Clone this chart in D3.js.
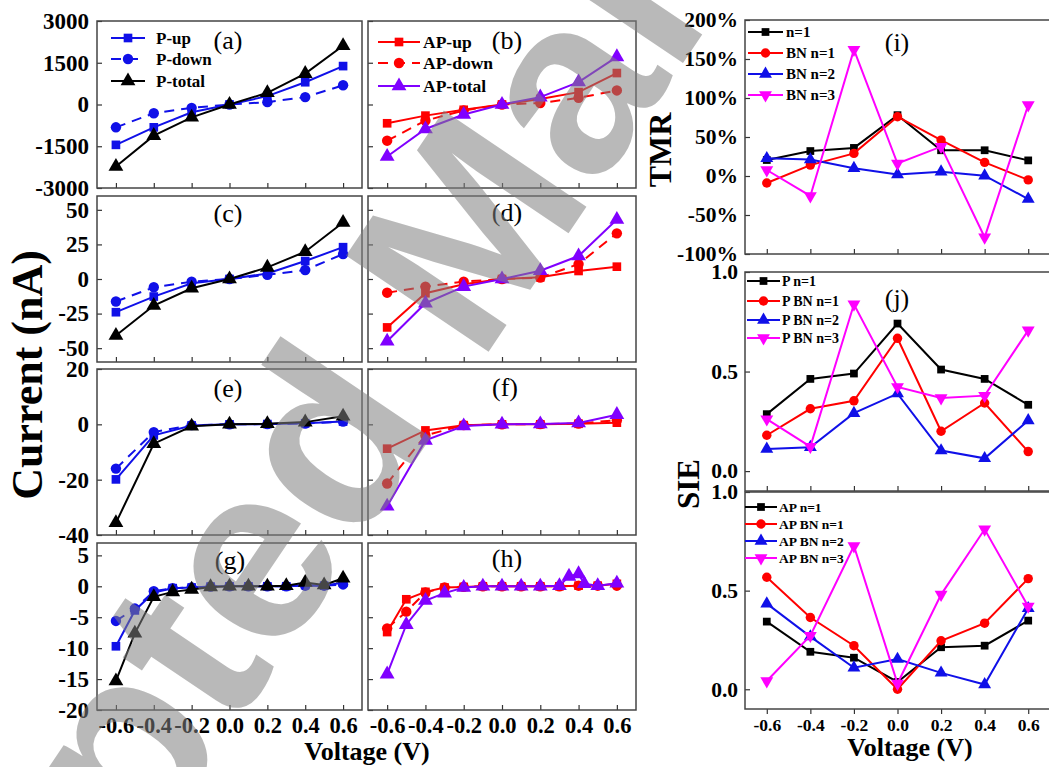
<!DOCTYPE html>
<html><head><meta charset="utf-8">
<script src="https://cdn.jsdelivr.net/npm/d3@7"></script>
<style>body{margin:0;background:#fff}svg{display:block}</style>
</head><body>
<svg id="c" width="1049" height="767"></svg>
<script>
// ---------- data ----------
const voltage7 = [-0.6,-0.4,-0.2,0,0.2,0.4,0.6];
const voltage13 = [-0.6,-0.5,-0.4,-0.3,-0.2,-0.1,0,0.1,0.2,0.3,0.4,0.5,0.6];
const voltageHTotal = [-0.6,-0.5,-0.4,-0.3,-0.2,-0.1,0,0.1,0.2,0.3,0.35,0.4,0.43,0.5,0.6];

const aUp    = [-1450,-820,-280,0,300,800,1380];
const aDown  = [-820,-315,-120,0,85,265,690];
const aTotal = [-2230,-1120,-460,0,420,1110,2110];
const bUp    = [-675,-400,-190,0,200,445,1130];
const bDown  = [-1300,-580,-215,0,50,240,505];
const bTotal = [-1870,-880,-360,0,265,805,1710];
const cUp    = [-24,-12.7,-3.1,0,4,13,23];
const cDown  = [-16.3,-6,-2,0,3,6.5,18];
const cTotal = [-40.8,-19.2,-6.7,0,8.4,19.7,40.8];
const dUp    = [-35,-10.3,-3.8,0,1.2,5.8,8.9];
const dDown  = [-9.9,-5.5,-1.9,0,1,10.8,33];
const dTotal = [-45,-17.5,-5.5,0,6,16.6,43];
const eUp    = [-19.9,-4,-0.4,0,0.1,0.4,1.0];
const eDown  = [-16,-2.8,-0.3,0,0.1,0.3,1.0];
const eTotal = [-35.6,-7,-0.7,0,0.2,0.8,2.9];
const fUp    = [-8.8,-2.2,-0.3,0,0,0.2,0.6];
const fDown  = [-21.4,-4,-0.3,0,0.1,0.3,1.5];
const fTotal = [-29.6,-5.8,-0.6,0,0.1,0.5,3.5];
const gUp    = [-9.7,-3.9,-1.0,-0.3,-0.2,-0.05,0,0,0,0,0.2,0.1,0.6];
const gDown  = [-5.6,-3.6,-0.8,-0.3,-0.2,-0.05,0,0,0,0,0.1,0.1,0.3];
const gTotal = [-15.3,-7.6,-1.7,-0.9,-0.5,-0.1,0,0,0,0.1,0.6,0.2,1.3];
const hUp    = [-7.4,-2.1,-0.9,-0.2,-0.1,0,0,0,0,0,0.1,0.1,0.4];
const hDown  = [-6.8,-4.1,-1.0,-0.2,-0.1,0,0,0,0,0,0.1,0.1,0.1];
const hTotal = [-14.2,-6.2,-2.3,-1.1,-0.2,0,0,0,0,0.1,1.6,2.0,0.4,0.1,0.5];

const tmrN1  = [20.5,32,36,78,33,33,20];
const tmrBN1 = [-9,14,29,76,46,17.5,-5];
const tmrBN2 = [22.6,21,10,2,5.5,0.4,-29.5];
const tmrBN3 = [7.7,-25.6,162,16,37.6,-78.6,91];
const siePN1  = [0.286,0.463,0.49,0.741,0.51,0.463,0.333];
const siePBN1 = [0.18,0.313,0.353,0.667,0.2,0.342,0.098];
const siePBN2 = [0.111,0.12,0.291,0.389,0.103,0.064,0.254];
const siePBN3 = [0.261,0.123,0.838,0.423,0.367,0.379,0.707];
const sieAPN1  = [0.343,0.19,0.16,0.037,0.213,0.221,0.348];
const sieAPBN1 = [0.568,0.364,0.221,0,0.246,0.335,0.561];
const sieAPBN2 = [0.434,0.267,0.109,0.153,0.083,0.024,0.41];
const sieAPBN3 = [0.042,0.272,0.726,0.029,0.48,0.811,0.42];

const ticksA = [-3000,-1500,0,1500,3000];
const ticksC = [-50,-25,0,25,50];
const ticksE = [-40,-20,0,20];
const ticksG = [-20,-15,-10,-5,0,5];
const ticksTMR = [-100,-50,0,50,100,150,200];
const ticksSIE = [0,0.5,1.0];

const watermarkText = 'Accepted Manuscript';

// ---------- styles ----------
const SERIF = '"Liberation Serif","Times New Roman",serif';
const BLUE = '#1010e8', RED = '#ff0000', PURPLE = '#8000ff', BLACK = '#000000', MAG = '#ff00ff';
const svg = d3.select('#c');

const symType = {square:d3.symbolSquare, circle:d3.symbolCircle, up:d3.symbolTriangle, down:d3.symbolTriangle};
function symPath(kind, size){ return d3.symbol().type(symType[kind]).size(size)(); }

function S(name, xs, ys, color, marker, dash){ return {name, xs, ys, color, marker, dash}; }

const L = {x0:97, x1:362}, M = {x0:368, x1:636}, R = {x0:745, x1:1050};
const rows = [[21,188],[196,362],[369,535],[543,710]];

const panels = [
  {...L, y0:rows[0][0], y1:rows[0][1], yd:[-3000,3000], yt:ticksA, ylab:true, tag:'(a)', tagX:228, tagY:40,
   series:[S('P-up',voltage7,aUp,BLUE,'square'),S('P-down',voltage7,aDown,BLUE,'circle',true),S('P-total',voltage7,aTotal,BLACK,'up')],
   legend:{lx0:111, lx1:145, tx:156, ys:[38,59,81], fs:17}},
  {...M, y0:rows[0][0], y1:rows[0][1], yd:[-3000,3000], yt:ticksA, tag:'(b)', tagX:507, tagY:40,
   series:[S('AP-up',voltage7,bUp,RED,'square'),S('AP-down',voltage7,bDown,RED,'circle',true),S('AP-total',voltage7,bTotal,PURPLE,'up')],
   legend:{lx0:378, lx1:420, tx:423, ys:[42,63,86], fs:17.5}},
  {...L, y0:rows[1][0], y1:rows[1][1], yd:[-60,60], yt:ticksC, ylab:true, tag:'(c)', tagX:228, tagY:213,
   series:[S('P-up',voltage7,cUp,BLUE,'square'),S('P-down',voltage7,cDown,BLUE,'circle',true),S('P-total',voltage7,cTotal,BLACK,'up')]},
  {...M, y0:rows[1][0], y1:rows[1][1], yd:[-60,60], yt:ticksC, tag:'(d)', tagX:507, tagY:212,
   series:[S('AP-up',voltage7,dUp,RED,'square'),S('AP-down',voltage7,dDown,RED,'circle',true),S('AP-total',voltage7,dTotal,PURPLE,'up')]},
  {...L, y0:rows[2][0], y1:rows[2][1], yd:[-40,20], yt:ticksE, ylab:true, tag:'(e)', tagX:228, tagY:388,
   series:[S('P-up',voltage7,eUp,BLUE,'square'),S('P-down',voltage7,eDown,BLUE,'circle',true),S('P-total',voltage7,eTotal,BLACK,'up')]},
  {...M, y0:rows[2][0], y1:rows[2][1], yd:[-40,20], yt:ticksE, tag:'(f)', tagX:505, tagY:387,
   series:[S('AP-up',voltage7,fUp,RED,'square'),S('AP-down',voltage7,fDown,RED,'circle',true),S('AP-total',voltage7,fTotal,PURPLE,'up')]},
  {...L, y0:rows[3][0], y1:rows[3][1], yd:[-20,7], yt:ticksG, ylab:true, xlab:true, tag:'(g)', tagX:230, tagY:560,
   series:[S('P-up',voltage13,gUp,BLUE,'square'),S('P-down',voltage13,gDown,BLUE,'circle',true),S('P-total',voltage13,gTotal,BLACK,'up')]},
  {...M, y0:rows[3][0], y1:rows[3][1], yd:[-20,7], yt:ticksG, xlab:true, tag:'(h)', tagX:507, tagY:558,
   series:[S('AP-up',voltage13,hUp,RED,'square'),S('AP-down',voltage13,hDown,RED,'circle',true),S('AP-total',voltageHTotal,hTotal,PURPLE,'up')]},
  {...R, y0:20, y1:254, yd:[-100,200], yt:ticksTMR, ylab:true, yfmt:d=>d+'%', tag:'(i)', tagX:897, tagY:42, small:true,
   series:[S('n=1',voltage7,tmrN1,BLACK,'square'),S('BN n=1',voltage7,tmrBN1,RED,'circle'),S('BN n=2',voltage7,tmrBN2,BLUE,'up'),S('BN n=3',voltage7,tmrBN3,MAG,'down')],
   legend:{lx0:748, lx1:783, tx:786, ys:[32,53,74,95], fs:15}},
  {...R, y0:272, y1:491, yd:[-0.1,1.0], yt:ticksSIE, ylab:true, yfmt:d=>d.toFixed(1), tag:'(j)', tagX:897, tagY:298, small:true,
   series:[S('P n=1',voltage7,siePN1,BLACK,'square'),S('P BN n=1',voltage7,siePBN1,RED,'circle'),S('P BN n=2',voltage7,siePBN2,BLUE,'up'),S('P BN n=3',voltage7,siePBN3,MAG,'down')],
   legend:{lx0:747, lx1:780, tx:782, ys:[281,301,320,338], fs:14}},
  {...R, y0:492, y1:709, yd:[-0.1,1.0], yt:ticksSIE, ylab:true, yfmt:d=>d.toFixed(1), xlab:true, xfs:17.5, xout:true, small:true,
   series:[S('AP n=1',voltage7,sieAPN1,BLACK,'square'),S('AP BN n=1',voltage7,sieAPBN1,RED,'circle'),S('AP BN n=2',voltage7,sieAPBN2,BLUE,'up'),S('AP BN n=3',voltage7,sieAPBN3,MAG,'down')],
   legend:{lx0:745, lx1:777, tx:779, ys:[507,524,541,558], fs:13.5}}
];

const sizes = {square:75, circle:85, up:95, down:95};
const sizesSmall = {square:60, circle:70, up:72, down:72};

function drawPanel(p){
  const x = d3.scaleLinear().domain([-0.7,0.7]).range([p.x0,p.x1]);
  const y = d3.scaleLinear().domain(p.yd).range([p.y1,p.y0]);
  const g = svg.append('g');
  const right = p.x0 === 745;
  const xfs = p.xfs || 22.5;
  const xa = d3.axisBottom(x).tickValues(voltage7).tickSizeOuter(0)
      .tickSizeInner(p.xout ? 5 : -5).tickPadding(p.xout ? 5 : 7)
      .tickFormat(p.xlab ? (d=>d.toFixed(1)) : (()=>''));
  const gx = g.append('g').attr('transform',`translate(0,${p.y1})`).call(xa);
  gx.select('.domain').remove();
  gx.selectAll('line').attr('stroke','#333').attr('stroke-width',1.2);
  gx.selectAll('text').attr('font-family',SERIF).attr('font-weight','bold').attr('font-size',xfs).attr('fill','#000');

  const ya = d3.axisLeft(y).tickValues(p.yt).tickSizeOuter(0).tickSizeInner(-5).tickPadding(right?7:8)
      .tickFormat(p.ylab ? (p.yfmt || (d=>String(d))) : (()=>''));
  const gy = g.append('g').attr('transform',`translate(${p.x0},0)`).call(ya);
  gy.select('.domain').remove();
  gy.selectAll('line').attr('stroke','#333').attr('stroke-width',1.2);
  gy.selectAll('text').attr('font-family',SERIF).attr('font-weight','bold').attr('font-size',right?21.5:23).attr('fill','#000');

  g.append('rect').attr('x',p.x0).attr('y',p.y0).attr('width',p.x1-p.x0).attr('height',p.y1-p.y0)
    .attr('fill','none').attr('stroke','#444').attr('stroke-width',1.5);

  const sz = p.small ? sizesSmall : sizes;
  const line = d3.line().x(d=>x(d[0])).y(d=>y(d[1]));
  p.series.forEach(s=>{
    const pts = s.xs.map((v,i)=>[v,s.ys[i]]);
    g.append('path').datum(pts).attr('d',line).attr('fill','none').attr('stroke',s.color)
      .attr('stroke-width',2).attr('stroke-dasharray',s.dash?'10,7':null);
    g.append('g').selectAll('path').data(pts).enter().append('path')
      .attr('d',symPath(s.marker, sz[s.marker]))
      .attr('transform',d=>`translate(${x(d[0])},${y(d[1])})${s.marker==='down'?' rotate(180)':''}`)
      .attr('fill',s.color);
  });

  if (p.tag) {
    g.append('text').attr('x',p.tagX).attr('y',p.tagY).attr('dy','0.35em').attr('text-anchor','middle')
      .attr('font-family',SERIF).attr('font-size',26).text(p.tag);
  }
  if (p.legend) {
    const lg = p.legend;
    p.series.forEach((s,i)=>{
      const yy = lg.ys[i];
      g.append('line').attr('x1',lg.lx0).attr('x2',lg.lx1).attr('y1',yy).attr('y2',yy)
        .attr('stroke',s.color).attr('stroke-width',2).attr('stroke-dasharray',s.dash?'10,7':null);
      g.append('path').attr('d',symPath(s.marker, sz[s.marker]))
        .attr('transform',`translate(${(lg.lx0+lg.lx1)/2},${yy})${s.marker==='down'?' rotate(180)':''}`)
        .attr('fill',s.color);
      g.append('text').attr('x',lg.tx).attr('y',yy).attr('dy','0.35em')
        .attr('font-family',SERIF).attr('font-weight','bold').attr('font-size',lg.fs).text(s.name);
    });
  }
}
panels.forEach(drawPanel);

// axis titles
function title(txt, x, y, fs, rot){
  svg.append('text').attr('transform',`translate(${x},${y})${rot?' rotate(-90)':''}`)
    .attr('text-anchor','middle').attr('font-family',SERIF).attr('font-weight','bold')
    .attr('font-size',fs).text(txt);
}
title('Current (nA)', 42, 375, 44, true);
title('Voltage (V)', 367, 760, 26, false);
title('Voltage (V)', 910, 756, 26, false);
title('TMR', 671, 150, 32, true);
title('SIE', 699, 484, 31, true);

// watermark overlay
svg.append('text').attr('transform','translate(-189,1356) rotate(-56)')
  .attr('font-family','"Liberation Sans",Arial,sans-serif').attr('font-weight','bold')
  .attr('font-size',250).attr('fill','#808080').attr('fill-opacity',0.55)
  .text(watermarkText);
</script>
</body></html>
